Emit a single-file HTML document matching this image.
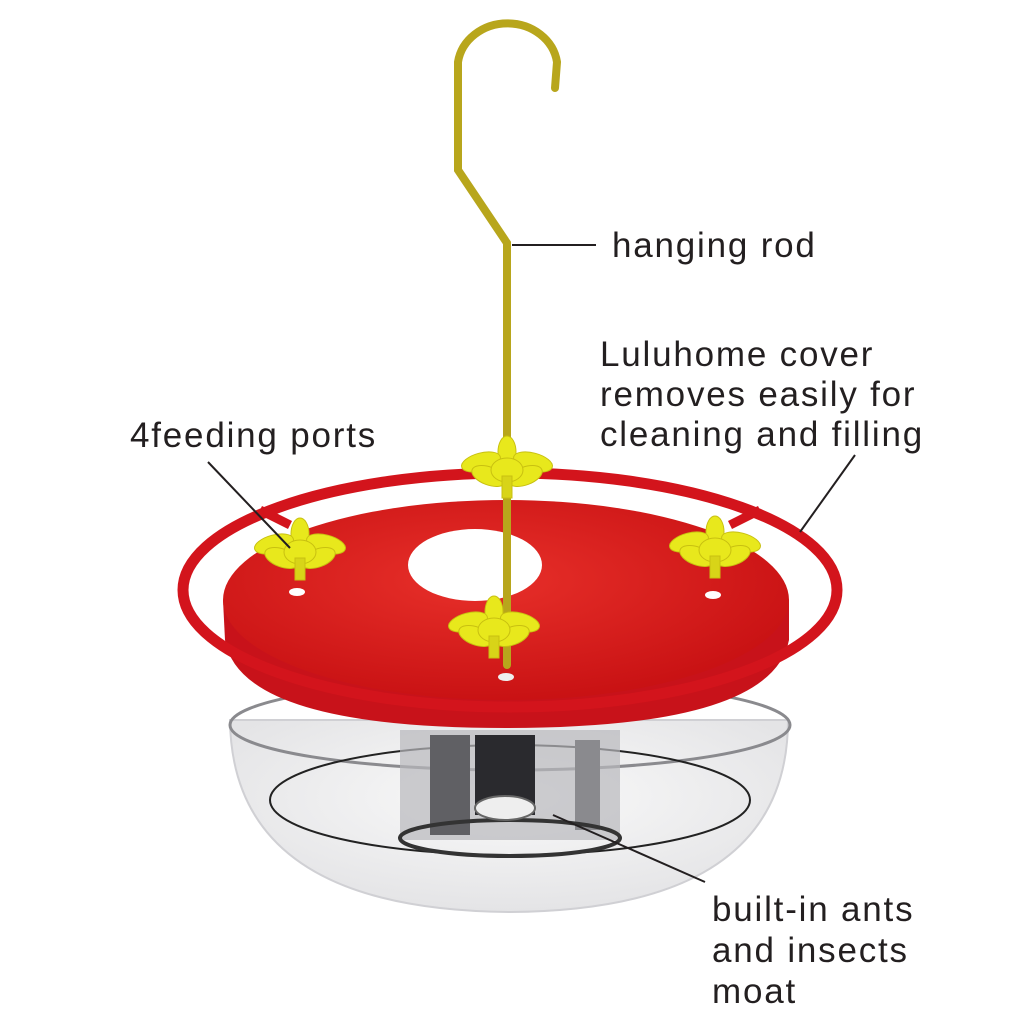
<!DOCTYPE html>
<html><head><meta charset="utf-8"><style>
html,body{margin:0;padding:0;background:#fff;}
svg{display:block}
text{font-family:"Liberation Sans",sans-serif;font-size:35px;fill:#231f20;letter-spacing:1.8px}
</style></head><body>
<svg width="1024" height="1024" viewBox="0 0 1024 1024">
<defs>
<radialGradient id="red" cx="45%" cy="40%" r="70%">
<stop offset="0" stop-color="#e8302a"/><stop offset="1" stop-color="#c40d10"/>
</radialGradient>
<radialGradient id="clear" cx="50%" cy="40%" r="60%">
<stop offset="0" stop-color="#fafafa"/><stop offset="1" stop-color="#e4e4e6"/>
</radialGradient>
<g id="fl">
<g fill="#e8e81c" stroke="#c8c010" stroke-width="1">
<ellipse cx="0" cy="-16" rx="9" ry="16"/>
<ellipse cx="-26" cy="-6" rx="20" ry="9" transform="rotate(-15 -26 -6)"/>
<ellipse cx="26" cy="-6" rx="20" ry="9" transform="rotate(15 26 -6)"/>
<ellipse cx="-18" cy="8" rx="18" ry="9" transform="rotate(20 -18 8)"/>
<ellipse cx="18" cy="8" rx="18" ry="9" transform="rotate(-20 18 8)"/>
<ellipse cx="0" cy="2" rx="16" ry="12"/>
<rect x="-5" y="8" width="10" height="22" fill="#d8d418"/>
</g>
</g>
</defs>

<path d="M230 720 Q232 910 510 912 Q788 910 788 720 Z" fill="url(#clear)" stroke="#d0d0d4" stroke-width="2"/>
<ellipse cx="510" cy="725" rx="280" ry="45" fill="none" stroke="#8a8a8e" stroke-width="3"/>
<ellipse cx="510" cy="800" rx="240" ry="55" fill="none" stroke="#222" stroke-width="2"/>
<rect x="400" y="730" width="220" height="110" fill="#b8b8bc" opacity="0.7"/>
<rect x="430" y="735" width="40" height="100" fill="#606064"/>
<rect x="475" y="735" width="60" height="80" fill="#2a2a2e"/>
<rect x="575" y="740" width="25" height="90" fill="#8a8a8e"/>
<ellipse cx="510" cy="838" rx="110" ry="18" fill="none" stroke="#333" stroke-width="4"/>
<ellipse cx="505" cy="808" rx="30" ry="12" fill="#eee" stroke="#666" stroke-width="2"/>

<path d="M223 600 L225 640 Q240 728 506 728 Q772 728 789 640 L789 600 Z" fill="#c8121a"/>
<ellipse cx="506" cy="600" rx="283" ry="100" fill="url(#red)"/>
<ellipse cx="475" cy="565" rx="67" ry="36" fill="#fff"/>
<ellipse cx="510" cy="590" rx="327" ry="117" fill="none" stroke="#d3141c" stroke-width="11"/>
<line x1="260" y1="510" x2="290" y2="525" stroke="#d3141c" stroke-width="9"/>
<line x1="760" y1="510" x2="730" y2="525" stroke="#d3141c" stroke-width="9"/>
<ellipse cx="297" cy="592" rx="8" ry="4" fill="#fff"/>
<ellipse cx="713" cy="595" rx="8" ry="4" fill="#fff"/>
<ellipse cx="506" cy="677" rx="8" ry="4" fill="#eee"/>

<path d="M507 665 L507 243 L458 170 L458 62 A50 45 0 0 1 557 62 L555 88" fill="none" stroke="#b8a61c" stroke-width="8" stroke-linecap="round"/>

<use href="#fl" x="507" y="468"/>
<use href="#fl" x="300" y="550"/>
<use href="#fl" x="715" y="548"/>
<use href="#fl" x="494" y="628"/>

<g stroke="#231f20" stroke-width="2" fill="none">
<line x1="512" y1="245" x2="596" y2="245"/>
<line x1="855" y1="455" x2="800" y2="532"/>
<line x1="208" y1="462" x2="290" y2="548"/>
<line x1="705" y1="882" x2="553" y2="815"/>
</g>

<text x="612" y="257">hanging rod</text>
<text x="600" y="366">Luluhome cover</text>
<text x="600" y="406">removes easily for</text>
<text x="600" y="446">cleaning and filling</text>
<text x="130" y="447">4feeding ports</text>
<text x="712" y="921">built-in ants</text>
<text x="712" y="962">and insects</text>
<text x="712" y="1003">moat</text>
</svg>
</body></html>
